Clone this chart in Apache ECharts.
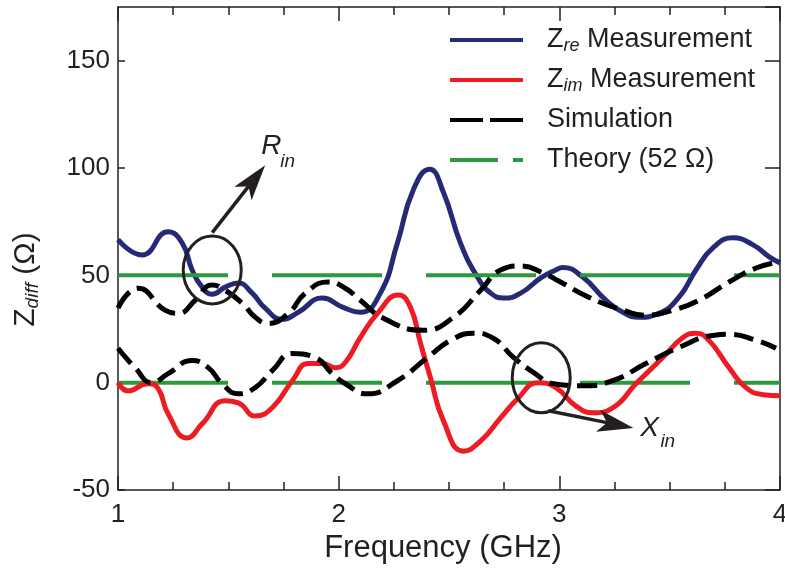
<!DOCTYPE html>
<html><head><meta charset="utf-8">
<script src="https://cdn.jsdelivr.net/npm/echarts@6/dist/echarts.min.js"></script>
<style>html,body{margin:0;padding:0;background:#fff}#c{width:785px;height:573px}</style>
</head><body><div id="c"></div>
<script>
// ---- data (frequency in GHz, impedance in ohm) ----
const zreFreq = [1.000,1.109,1.227,1.291,1.336,1.381,1.427,1.486,1.545,1.608,1.667,1.744,1.817,1.926,2.017,2.098,2.189,2.266,2.339,2.412,2.475,2.552,2.630,2.689,2.748,2.825,2.916,2.984,3.015,3.106,3.211,3.288,3.360,3.451,3.542,3.619,3.696,3.787,3.878,3.951,4.000];
const zreVal  = [66.6,59.5,70.3,65,52.5,44.5,41.2,44.5,46.4,41.7,34.7,29.5,32.8,39.4,35.2,32.8,41.7,65,90,99.4,88.6,65,49,41.7,39.4,41.7,48.8,52.5,53.6,49.2,38.4,32.8,30.5,32.3,39.8,52.5,62.8,67.5,64.2,58.6,55.8];

const zimFreq = [1.000,1.045,1.136,1.182,1.227,1.313,1.381,1.486,1.545,1.622,1.699,1.790,1.862,1.926,1.985,2.030,2.098,2.176,2.271,2.325,2.371,2.416,2.475,2.566,2.643,2.734,2.811,2.902,2.984,3.074,3.152,3.242,3.347,3.469,3.560,3.619,3.678,3.769,3.846,3.923,4.000];
const zimVal  = [0,-3.8,-0.5,-2.8,-14.5,-25.8,-19.2,-8.4,-9.4,-15.5,-11.7,0.9,8.9,8.9,7,9.4,21,32.3,40.8,35.2,18.3,2.3,-17.8,-31.9,-27.2,-16.4,-7.5,0,-2.3,-10.8,-14,-11.7,-0.5,11.7,21,23,19.7,7,-2.3,-5.6,-6.1];

const simUpperFreq = [1.000,1.091,1.213,1.272,1.350,1.427,1.486,1.563,1.622,1.681,1.772,1.849,1.953,2.030,2.098,2.203,2.384,2.521,2.643,2.734,2.825,2.929,2.995,3.133,3.288,3.392,3.515,3.633,3.769,3.892,4.000];
const simUpperVal  = [34.7,44,33.8,32.3,38.4,45.5,43,37,30.5,27.6,32.3,41.7,46.9,44,38.4,30,24.4,30.5,43,52.5,54.4,51,47.5,39.8,33.8,31.4,33.8,38.4,46.9,53.4,56.3];

const simLowerFreq = [1.000,1.077,1.154,1.227,1.336,1.409,1.472,1.545,1.622,1.699,1.790,1.894,1.971,2.030,2.130,2.266,2.403,2.507,2.611,2.702,2.793,2.884,2.975,3.106,3.242,3.392,3.542,3.696,3.769,3.892,3.982];
const simLowerVal  = [16,7,0,4.2,10.3,7,-0.5,-5.2,-2.3,5.6,13.6,11.7,4.2,-0.5,-5.2,0.9,11.7,19.7,23,20.6,11.7,4.7,-0.5,-1.4,0.9,8.9,16.4,22,22.5,19.7,16];

const theoryFreq = [1, 4];
const theoryRe = [50, 50];
const theoryIm = [0, 0];

const xTickLabels = [1, 2, 3, 4];
const yTickLabels = [-50, 0, 50, 100, 150];

const seriesNames = ['Zre Measurement', 'Zim Measurement', 'Simulation', 'Theory (52 Ω)'];

// ---- styles ----
const FONT = 'Liberation Sans, Arial, Helvetica, sans-serif';
const INK = '#231f20';
const BLUE = '#262a74', RED = '#ed1c24', BLACK = '#000000', GREEN = '#2b9a3e';
const SMOOTH = 0.5;

const zip = (a, b) => a.map((v, i) => [v, b[i]]);

const chart = echarts.init(document.getElementById('c'), null, {renderer: 'canvas'});

const axisLineStyle = {show: true, onZero: false, lineStyle: {color: INK, width: 1.5}};
const xCommon = {
  type: 'value', min: xTickLabels[0], max: xTickLabels[xTickLabels.length - 1], interval: 1,
  axisLine: axisLineStyle, splitLine: {show: false},
  axisTick: {show: true, inside: true, length: 14, lineStyle: {color: INK, width: 1.5}},
  minorTick: {show: true, splitNumber: 4, length: 8, lineStyle: {color: INK, width: 1.5}},
  minorSplitLine: {show: false}
};
const yCommon = {
  type: 'value', min: yTickLabels[0], max: 175, interval: 50,
  axisLine: axisLineStyle, splitLine: {show: false}
};

chart.setOption({
  animation: false,
  backgroundColor: '#fff',
  textStyle: {fontFamily: FONT, color: INK},
  grid: {left: 118, right: 5, top: 7, bottom: 83, containLabel: false, outerBoundsMode: 'none'},
  legend: {
    orient: 'vertical', left: 445, top: 20, itemGap: 10,
    itemWidth: 73, itemHeight: 4, selectedMode: false,
    textStyle: {
      fontFamily: FONT, fontSize: 27, lineHeight: 30, color: INK, padding: [0, 0, 0, 19],
      rich: {
        z: {fontFamily: FONT, fontSize: 27, lineHeight: 30, color: INK},
        s: {fontFamily: FONT, fontSize: 18, fontStyle: 'italic', lineHeight: 10, verticalAlign: 'bottom', color: INK}
      }
    },
    formatter: function (name) {
      if (name === seriesNames[0]) return '{z|Z}{s|re} Measurement';
      if (name === seriesNames[1]) return '{z|Z}{s|im} Measurement';
      return name;
    },
    data: [
      {name: seriesNames[0], icon: 'path://M0,0H73V4H0Z', itemStyle: {color: BLUE, borderWidth: 0}},
      {name: seriesNames[1], icon: 'path://M0,0H73V4H0Z', itemStyle: {color: RED, borderWidth: 0}},
      {name: seriesNames[2], icon: 'path://M0,0H33V4H0Z M40,0H73V4H40Z', itemStyle: {color: BLACK, borderWidth: 0}},
      {name: seriesNames[3], icon: 'path://M0,0H48V4H0Z M63,0H73V4H63Z', itemStyle: {color: GREEN, borderWidth: 0}}
    ]
  },
  xAxis: [
    Object.assign({}, xCommon, {
      position: 'bottom',
      name: 'Frequency (GHz)', nameLocation: 'middle', nameGap: 39,
      nameTextStyle: {fontFamily: FONT, fontSize: 31, color: INK, padding: [0, 12, 0, 0]},
      axisLabel: {show: true, margin: 12, fontFamily: FONT, fontSize: 26, color: INK}
    }),
    Object.assign({}, xCommon, {position: 'top', axisLabel: {show: false}})
  ],
  yAxis: [
    Object.assign({}, yCommon, {
      position: 'left',
      name: '{z|Z}{s|diff} (Ω)', nameLocation: 'middle', nameGap: 76,
      nameTextStyle: {
        fontFamily: FONT, fontSize: 30, lineHeight: 32, color: INK, padding: [0, 62, 0, 0],
        rich: {
          z: {fontFamily: FONT, fontSize: 30, lineHeight: 32, color: INK},
          s: {fontFamily: FONT, fontSize: 19, fontStyle: 'italic', lineHeight: 10, verticalAlign: 'bottom', color: INK}
        }
      },
      axisTick: {show: true, inside: true, length: 7, lineStyle: {color: INK, width: 1.5}},
      axisLabel: {show: true, margin: 8, fontFamily: FONT, fontSize: 26, color: INK, showMaxLabel: false}
    }),
    Object.assign({}, yCommon, {
      position: 'right',
      axisTick: {show: true, inside: true, length: 15, lineStyle: {color: INK, width: 1.5}},
      axisLabel: {show: false}
    })
  ],
  series: [
    {name: seriesNames[0], type: 'line', data: zip(zreFreq, zreVal), smooth: SMOOTH, showSymbol: false, symbol: 'none', color: BLUE,
     lineStyle: {color: BLUE, width: 5}, z: 2},
    {name: seriesNames[3], type: 'line', data: zip(theoryFreq, theoryRe), showSymbol: false, symbol: 'none', color: GREEN,
     lineStyle: {color: GREEN, width: 4, type: [110, 44], cap: 'butt'}, z: 3},
    {name: seriesNames[3], type: 'line', data: zip(theoryFreq, theoryIm), showSymbol: false, symbol: 'none', color: GREEN,
     lineStyle: {color: GREEN, width: 4, type: [110, 44], cap: 'butt'}, z: 3},
    {name: seriesNames[1], type: 'line', data: zip(zimFreq, zimVal), smooth: SMOOTH, showSymbol: false, symbol: 'none', color: RED,
     lineStyle: {color: RED, width: 5}, z: 4},
    {name: seriesNames[2], type: 'line', data: zip(simUpperFreq, simUpperVal), smooth: SMOOTH, showSymbol: false, symbol: 'none', color: BLACK,
     lineStyle: {color: BLACK, width: 5, type: [20, 8]}, z: 5},
    {name: seriesNames[2], type: 'line', data: zip(simLowerFreq, simLowerVal), smooth: SMOOTH, showSymbol: false, symbol: 'none', color: BLACK,
     lineStyle: {color: BLACK, width: 5, type: [20, 8]}, z: 5}
  ]
});

// ---- annotations, anchored in data coordinates ----
const annRin = {ellipse: [1.427, 52.5], from: [1.427, 69.9], to: [1.667, 101.3], label: [1.649, 110.2], sub: [1.735, 102.7]};
const annXin = {ellipse: [2.918, 2.3], from: [2.95, -13.1], to: [3.336, -21.1], label: [3.367, -21.1], sub: [3.458, -27.7]};

function px(p) { return chart.convertToPixel({gridIndex: 0}, p); }
function arrow(fromD, toD) {
  const a = px(fromD), b = px(toD);
  const dx = b[0] - a[0], dy = b[1] - a[1], L = Math.hypot(dx, dy);
  const ux = dx / L, uy = dy / L, nx = -uy, ny = ux;
  const hl = 36, hw = 11, notch = 27;
  return [
    {type: 'line', shape: {x1: a[0], y1: a[1], x2: b[0] - ux * notch, y2: b[1] - uy * notch},
     style: {stroke: INK, lineWidth: 3.5}, z: 20},
    {type: 'polygon', shape: {points: [
      [b[0], b[1]],
      [b[0] - ux * hl + nx * hw, b[1] - uy * hl + ny * hw],
      [b[0] - ux * notch, b[1] - uy * notch],
      [b[0] - ux * hl - nx * hw, b[1] - uy * hl - ny * hw]
    ]}, style: {fill: INK}, z: 20}
  ];
}
function ell(cD, rx, ry) {
  const c = px(cD);
  return {type: 'ellipse', shape: {cx: c[0], cy: c[1], rx: rx, ry: ry}, style: {fill: 'none', stroke: INK, lineWidth: 3}, z: 20};
}
function lbl(pD, text, size) {
  const p = px(pD);
  return {type: 'text', x: p[0], y: p[1], style: {text: text, fontFamily: FONT, fontSize: size, fontStyle: 'italic', fill: INK, align: 'left', verticalAlign: 'middle'}, z: 21};
}
const g = [].concat(
  [ell(annRin.ellipse, 29, 34)], arrow(annRin.from, annRin.to), [lbl(annRin.label, 'R', 28), lbl(annRin.sub, 'in', 19)],
  [ell(annXin.ellipse, 29, 35)], arrow(annXin.from, annXin.to), [lbl(annXin.label, 'X', 28), lbl(annXin.sub, 'in', 19)]
);
chart.setOption({graphic: g});
</script>
</body></html>
